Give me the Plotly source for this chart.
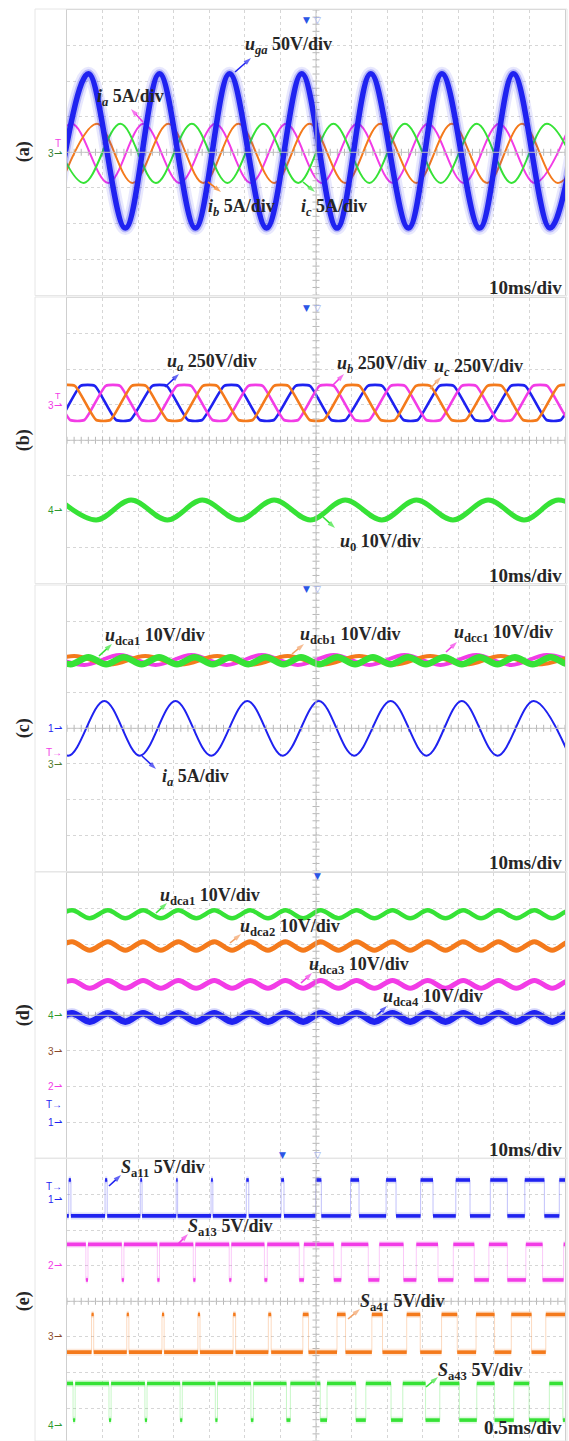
import plotly.graph_objects as go

# ===================== DATA (values in screen divisions) =====================
# (a) grid voltage u_ga and currents ia, ib, ic  (10 ms/div)
a_uga_peaks = [0.60, 2.60, 4.57, 6.60, 8.54, 10.54, 12.55, 14.56]
a_uga_troughs = [-0.40, 1.64, 3.61, 5.61, 7.59, 9.60, 11.60, 13.58]
a_uga_level = [0.04, 2.17]          # centre, amplitude
a_ia_peaks = [0.13, 2.15, 4.17, 6.16, 8.16, 10.15, 12.15, 14.15]
a_ia_troughs = [-0.87, 1.16, 3.17, 5.17, 7.16, 9.16, 11.15, 13.15]
a_ib_peaks = [0.84, 2.85, 4.82, 6.82, 8.81, 10.82, 12.79, 14.80]
a_ib_troughs = [-0.16, 1.84, 3.83, 5.82, 7.82, 9.82, 11.81, 13.80]
a_ic_peaks = [-0.50, 1.50, 3.51, 5.52, 7.49, 9.50, 11.52, 13.49]
a_ic_troughs = [0.47, 2.50, 4.51, 6.50, 8.50, 10.51, 12.50, 14.50]
a_i_level = [-0.03, 0.83]

# (b) output phase voltages (flat-topped) and zero-sequence u0
b_ua_tops = [-1.42, 0.58, 2.60, 4.62, 6.63, 8.66, 10.67, 12.68, 14.69]
b_ub_tops = [-0.71, 1.29, 3.29, 5.30, 7.30, 9.30, 11.30, 13.30]
b_uc_tops = [-1.98, 0.02, 2.02, 4.02, 6.02, 8.02, 10.01, 12.02, 14.02]
b_shape_dt = [-0.20, 0.20, 0.80, 1.20]
b_shape_lvl = [1.0, 1.0, -1.0, -1.0]
b_u_level = [1.05, 0.48]
b_u0_peaks = [-0.20, 1.80, 3.80, 5.82, 7.82, 9.82, 11.84, 13.81]
b_u0_troughs = [0.82, 2.82, 4.84, 6.84, 8.85, 10.85, 12.85, 14.83]
b_u0_level = [-1.96, 0.28]

# (c) cluster DC voltages of the three phases and current ia
c_dca1_peaks = [-0.40, 0.60, 1.60, 2.59, 3.59, 4.60, 5.59, 6.58, 7.60, 8.60, 9.59, 10.60, 11.60, 12.59, 13.60, 14.60]
c_dca1_troughs = [0.10, 1.10, 2.10, 3.09, 4.10, 5.10, 6.09, 7.09, 8.10, 9.10, 10.09, 11.10, 12.10, 13.09, 14.10]
c_dca1_level = [1.90, 0.10]
c_dcb1_peaks = [0.20, 2.20, 4.22, 6.20, 8.21, 10.21, 12.20, 14.20]
c_dcb1_troughs = [-0.80, 1.20, 3.21, 5.21, 7.20, 9.21, 11.21, 13.20]
c_dcb1_level = [1.91, 0.12]
c_dcc1_peaks = [-0.50, 1.48, 3.50, 5.48, 7.50, 9.49, 11.50, 13.49]
c_dcc1_troughs = [0.49, 2.49, 4.49, 6.49, 8.50, 10.50, 12.49, 14.49]
c_dcc1_level = [1.92, 0.14]
c_ia_peaks = [-0.97, 1.05, 3.05, 5.07, 7.08, 9.10, 11.10, 13.12]
c_ia_troughs = [0.03, 2.05, 4.05, 6.07, 8.07, 10.11, 12.10, 14.12]
c_ia_level = [0.0, 0.77]

# (d) DC voltages of the four modules of phase a (100 Hz ripple, in phase)
d_ripple_peaks = [0.14, 1.15, 2.14, 3.13, 4.14, 5.15, 6.14, 7.13, 8.14, 9.15, 10.14, 11.14, 12.13, 13.14, 14.14]
d_ripple_troughs = [-0.36, 0.64, 1.64, 2.64, 3.63, 4.64, 5.65, 6.64, 7.63, 8.64, 9.65, 10.64, 11.64, 12.63, 13.64, 14.64]
d_dca1_level = [2.84, 0.11]
d_dca2_level = [1.95, 0.12]
d_dca3_level = [0.87, 0.11]
d_dca4_level = [-0.06, 0.12]

# (e) gate signals (0.5 ms/div): pulse edges in divisions, levels (high, low)
e_sa11_on = [0.05, 1.07, 2.06, 3.07, 4.05, 5.04, 6.02, 6.99, 7.97, 8.97, 9.94, 10.93, 11.90, 12.87, 13.84]
e_sa11_off = [0.11, 1.13, 2.11, 3.11, 4.10, 5.11, 6.10, 7.15, 8.21, 9.25, 10.29, 11.33, 12.38, 13.42, 14.30]
e_sa11_lvl = [3.41, 2.40]
e_sa13_off = [0.53, 1.54, 2.54, 3.55, 4.56, 5.55, 6.53, 7.50, 8.47, 9.46, 10.43, 11.45, 12.38, 13.37]
e_sa13_on = [0.59, 1.60, 2.60, 3.61, 4.62, 5.63, 6.66, 7.71, 8.78, 9.82, 10.86, 11.86, 12.90, 13.96]
e_sa13_lvl = [1.60, 0.60]
e_sa41_on = [0.69, 1.68, 2.67, 3.68, 4.67, 5.66, 6.63, 7.59, 8.57, 9.55, 10.53, 11.50, 12.49, 13.46]
e_sa41_off = [0.75, 1.74, 2.73, 3.74, 4.74, 5.74, 6.79, 7.83, 8.87, 9.93, 10.97, 12.02, 13.06, 14.30]
e_sa41_lvl = [-0.37, -1.43]
e_sa43_off = [0.17, 1.18, 2.19, 3.18, 4.17, 5.17, 6.17, 7.12, 8.12, 9.11, 10.08, 11.03, 12.02, 12.99, 13.94]
e_sa43_on = [0.23, 1.24, 2.25, 3.24, 4.23, 5.24, 6.28, 7.31, 8.40, 9.44, 10.48, 11.52, 12.56, 13.56, 14.30]
e_sa43_lvl = [-2.31, -3.34]

panel_names = ["(a)", "(b)", "(c)", "(d)", "(e)"]
time_scales = ["10ms/div", "10ms/div", "10ms/div", "10ms/div", "0.5ms/div"]

# ===================== GEOMETRY / STYLE =====================
W, H = 569, 1441
PX_L, PX_R = 67, 565
NX, NY = 14, 8
DIV = (PX_R - PX_L) / NX
TOPS = [10, 298, 586, 873, 1159]

BLUE = "#1f22f0"
ORANGE = "#f47a1c"
GREEN = "#36e236"
MAGENTA = "#f23ce6"
ORANGE_L = "#f2a064"
TXT = "#262626"
SERIF = "Liberation Serif, Times New Roman, serif"

fig = go.Figure()


def ax(i):
    return ("x" if i == 0 else f"x{i+1}"), ("y" if i == 0 else f"y{i+1}")


def extrema(peaks, troughs, level):
    c, a = level
    pts = sorted([(t, c + a) for t in peaks] + [(t, c - a) for t in troughs])
    return [p[0] for p in pts], [p[1] for p in pts]


def trapez(tops, level):
    c, a = level
    xs, ys = [], []
    for t in tops:
        for dt, lv in zip(b_shape_dt, b_shape_lvl):
            xs.append(t + dt)
            ys.append(c + a * lv)
    return xs, ys


def add_line(i, x, y, color, width, shape="spline", opacity=1.0, smoothing=1.0):
    xa, ya = ax(i)
    line = dict(color=color, width=width, shape=shape)
    if shape == "spline":
        line["smoothing"] = smoothing
    fig.add_trace(go.Scatter(x=x, y=y, mode="lines", line=line, opacity=opacity,
                             xaxis=xa, yaxis=ya, hoverinfo="skip", showlegend=False))


def add_wave(i, peaks, troughs, level, color, width, halos=()):
    x, y = extrema(peaks, troughs, level)
    for hw, hop in halos:
        add_line(i, x, y, color, hw, opacity=hop)
    add_line(i, x, y, color, width)


def add_pwm(i, rise, fall, lvl, color, base_low=True):
    """rise/fall: edges of the minority pulses; base_low -> pulses go high."""
    hi, lo = lvl
    base, pulse = (lo, hi) if base_low else (hi, lo)
    xs, ys = [-0.5], [base]
    for s, e in zip(rise, fall):
        xs += [s, e]
        ys += [pulse, base]
    add_line(i, xs, ys, color, 1, shape="hv", opacity=0.28)
    bx, by, px, py = [], [], [], []
    prev = -0.5
    for s, e in zip(rise, fall):
        bx += [prev, s, None]
        by += [base, base, None]
        px += [s, e, None]
        py += [pulse, pulse, None]
        prev = e
    bx += [prev, 14.5]
    by += [base, base]
    for X, Y in ((bx, by), (px, py)):
        add_line(i, X, Y, color, 7, shape="linear", opacity=0.15)
        add_line(i, X, Y, color, 3.6, shape="linear")


# ---------------- axes, grid, centre cross ----------------
layout_axes = {}
shapes = []
annotations = []
for i, top in enumerate(TOPS):
    xa, ya = ax(i)
    bottom = top + NY * DIV
    y_lo = 4 - (min(bottom, H) - top) / DIV
    dom_y = [max(0.0, 1 - bottom / H), 1 - top / H]
    xkey = "xaxis" if i == 0 else f"xaxis{i+1}"
    ykey = "yaxis" if i == 0 else f"yaxis{i+1}"
    common = dict(showgrid=True, gridcolor="#d6d6d6", griddash="dot", gridwidth=1,
                  zeroline=False, showticklabels=False, ticks="", showline=True,
                  linecolor="#cfcfcf", linewidth=1, mirror=True, fixedrange=True, dtick=1, tick0=0)
    layout_axes[xkey] = dict(domain=[PX_L / W, PX_R / W], range=[0, NX], anchor=ya, **common)
    layout_axes[ykey] = dict(domain=dom_y, range=[y_lo, 4], anchor=xa, **common)
    shapes.append(dict(type="line", xref=xa, yref=ya, x0=0, x1=NX, y0=0, y1=0,
                       line=dict(color="#c2c2c2", width=1)))
    shapes.append(dict(type="line", xref=xa, yref=ya, x0=7, x1=7, y0=y_lo, y1=4,
                       line=dict(color="#c2c2c2", width=1)))
    shapes.append(dict(type="rect", xref="paper", yref="paper", x0=35 / W, x1=567 / W,
                       y0=max(0, 1 - (bottom + 1) / H), y1=1 - (top - 1) / H,
                       line=dict(color="#e6e6e6", width=1)))
    fig.add_trace(go.Scatter(x=[k * 0.2 for k in range(71)], y=[0] * 71, mode="markers",
                             marker=dict(symbol="line-ns", size=5, line=dict(color="#b8b8b8", width=1)),
                             xaxis=xa, yaxis=ya, hoverinfo="skip", showlegend=False))
    ny = int(round((4 - y_lo) / 0.2)) + 1
    fig.add_trace(go.Scatter(x=[7] * ny, y=[y_lo + k * 0.2 for k in range(ny)], mode="markers",
                             marker=dict(symbol="line-ew", size=5, line=dict(color="#b8b8b8", width=1)),
                             xaxis=xa, yaxis=ya, hoverinfo="skip", showlegend=False))

# overlay axis in figure pixels, for the pointer arrows
layout_axes["xaxis6"] = dict(domain=[0, 1], range=[0, W], visible=False, fixedrange=True, anchor="y6")
layout_axes["yaxis6"] = dict(domain=[0, 1], range=[H, 0], visible=False, fixedrange=True, anchor="x6")

# ---------------- traces ----------------
# (a)
add_wave(0, a_ia_peaks, a_ia_troughs, a_i_level, MAGENTA, 2)
add_wave(0, a_ib_peaks, a_ib_troughs, a_i_level, ORANGE, 2)
add_wave(0, a_ic_peaks, a_ic_troughs, a_i_level, GREEN, 2)
add_wave(0, a_uga_peaks, a_uga_troughs, a_uga_level, BLUE, 5.5, halos=((14, 0.10), (9, 0.25)))

# (b)
for tops, col in ((b_ua_tops, BLUE), (b_ub_tops, MAGENTA), (b_uc_tops, ORANGE)):
    x, y = trapez(tops, b_u_level)
    add_line(1, x, y, col, 2.6, shape="spline", smoothing=0.5)
add_wave(1, b_u0_peaks, b_u0_troughs, b_u0_level, GREEN, 5)

# (c)
add_wave(2, c_dcc1_peaks, c_dcc1_troughs, c_dcc1_level, MAGENTA, 4)
add_wave(2, c_dcb1_peaks, c_dcb1_troughs, c_dcb1_level, ORANGE, 4)
add_wave(2, c_dca1_peaks, c_dca1_troughs, c_dca1_level, GREEN, 6.5)
add_wave(2, c_ia_peaks, c_ia_troughs, c_ia_level, BLUE, 2)

# (d)
add_wave(3, d_ripple_peaks, d_ripple_troughs, d_dca1_level, GREEN, 4.5)
add_wave(3, d_ripple_peaks, d_ripple_troughs, d_dca2_level, ORANGE, 5)
add_wave(3, d_ripple_peaks, d_ripple_troughs, d_dca3_level, MAGENTA, 5)
add_wave(3, d_ripple_peaks, d_ripple_troughs, d_dca4_level, BLUE, 6.5, halos=((10, 0.2),))

# (e)
add_pwm(4, e_sa11_on, e_sa11_off, e_sa11_lvl, BLUE, base_low=True)
add_pwm(4, e_sa13_off, e_sa13_on, e_sa13_lvl, MAGENTA, base_low=False)
add_pwm(4, e_sa41_on, e_sa41_off, e_sa41_lvl, ORANGE, base_low=True)
add_pwm(4, e_sa43_off, e_sa43_on, e_sa43_lvl, GREEN, base_low=False)


# ---------------- text ----------------
def P(x, y):
    return x / W, 1 - y / H


def label(x, y, html, size=18, anchor="left"):
    px, py = P(x, y)
    annotations.append(dict(x=px, y=py, xref="paper", yref="paper", text=html, showarrow=False,
                            xanchor=anchor, yanchor="middle",
                            font=dict(family=SERIF, size=size, color=TXT)))


def arrow(tail, head, color):
    fig.add_trace(go.Scatter(x=[tail[0], head[0]], y=[tail[1], head[1]], mode="lines+markers",
                             line=dict(color=color, width=1.6),
                             marker=dict(symbol="arrow", size=[0, 8], angleref="previous", color=color,
                                         line=dict(width=0)),
                             xaxis="x6", yaxis="y6", hoverinfo="skip", showlegend=False))


def small(x, y, text, color, size=10, family="Liberation Sans, Arial, sans-serif"):
    px, py = P(x, y)
    annotations.append(dict(x=px, y=py, xref="paper", yref="paper", text=text, showarrow=False,
                            xanchor="right", yanchor="middle", font=dict(family=family, size=size, color=color)))


def U(sub, italic_sub=True):
    s = f"<i>{sub}</i>" if italic_sub else sub
    return f"<i>u</i><sub>{s}</sub>"


# (a)
label(243, 46, f"<b>{U('ga')} 50V/div</b>")
arrow((235, 72), (251, 58), BLUE)
label(95, 98, "<b><i>i</i><sub><i>a</i></sub> 5A/div</b>")
arrow((143, 122), (131, 109), MAGENTA)
label(206, 207, "<b><i>i</i><sub><i>b</i></sub> 5A/div</b>")
arrow((208, 182), (221, 192), ORANGE)
label(299, 207, "<b><i>i</i><sub><i>c</i></sub> 5A/div</b>")
arrow((303, 182), (315, 192), GREEN)
# (b)
label(165, 362, f"<b>{U('a')} 250V/div</b>")
arrow((165, 387), (179, 374), BLUE)
label(335, 364, f"<b>{U('b')} 250V/div</b>")
arrow((332, 386), (344, 374), MAGENTA)
label(432, 367, f"<b>{U('c')} 250V/div</b>")
arrow((430, 389), (441, 377), ORANGE_L)
label(338, 542, f"<b>{U('0', False)} 10V/div</b>")
arrow((323, 517), (335, 528), GREEN)
# (c)
label(103, 636, f"<b>{U('dca1', False)} 10V/div</b>")
arrow((99, 656), (112, 644), GREEN)
label(298, 635, f"<b>{U('dcb1', False)} 10V/div</b>")
arrow((292, 654), (304, 644), ORANGE_L)
label(452, 633, f"<b>{U('dcc1', False)} 10V/div</b>")
arrow((446, 652), (457, 642), MAGENTA)
label(160, 777, "<b><i>i</i><sub><i>a</i></sub> 5A/div</b>")
arrow((142, 756), (156, 769), BLUE)
# (d)
label(158, 896, f"<b>{U('dca1', False)} 10V/div</b>")
arrow((156, 913), (167, 903), GREEN)
label(238, 927, f"<b>{U('dca2', False)} 10V/div</b>")
arrow((230, 943), (241, 934), ORANGE_L)
label(307, 965, f"<b>{U('dca3', False)} 10V/div</b>")
arrow((301, 983), (312, 973), MAGENTA)
label(381, 997, f"<b>{U('dca4', False)} 10V/div</b>")
arrow((376, 1016), (387, 1006), BLUE)
# (e)
label(119, 1168, "<b><i>S</i><sub>a11</sub> 5V/div</b>")
arrow((109, 1186), (121, 1175), BLUE)
label(186, 1227, "<b><i>S</i><sub>a13</sub> 5V/div</b>")
arrow((177, 1245), (188, 1234), MAGENTA)
label(358, 1302, "<b><i>S</i><sub>a41</sub> 5V/div</b>")
arrow((348, 1319), (360, 1309), ORANGE_L)
label(436, 1371, "<b><i>S</i><sub>a43</sub> 5V/div</b>")
arrow((426, 1387), (438, 1377), GREEN)

# time scales and panel names
ts_y = [287, 575, 862, 1149, 1427]
for i, top in enumerate(TOPS):
    label(564, ts_y[i], f"<b>{time_scales[i]}</b>", size=19, anchor="right")
    cx, cy = P(23, top + 4 * DIV)
    annotations.append(dict(x=cx, y=cy, xref="paper", yref="paper", text=f"<b>{panel_names[i]}</b>",
                            showarrow=False, textangle=-90, xanchor="center", yanchor="middle",
                            font=dict(family=SERIF, size=18, color=TXT)))

# trigger markers at the top of each screen
trig = [(306, 317.5), (306, 317.5), (306, 317.5), (None, 317.5), (282, 317)]
for i, top in enumerate(TOPS):
    fx, hx = trig[i]
    if fx is not None:
        px, py = P(fx, top + 3)
        annotations.append(dict(x=px, y=py, xref="paper", yref="paper", text="▼", showarrow=False,
                                font=dict(family="DejaVu Sans", size=9, color="#2a55e6")))
        px, py = P(hx, top + 3)
        annotations.append(dict(x=px, y=py, xref="paper", yref="paper", text="▽", showarrow=False,
                                font=dict(family="DejaVu Sans", size=9, color="#8fa6ee")))
    else:
        px, py = P(hx, top + 3)
        annotations.append(dict(x=px, y=py, xref="paper", yref="paper", text="▼", showarrow=False,
                                font=dict(family="DejaVu Sans", size=9, color="#2a55e6")))

# channel markers on the left edge
small(63, 143, "T", MAGENTA)
small(64, 154, "3⇀", "#2f7d2f")
small(63, 396, "T", MAGENTA, size=9)
small(64, 405, "3⇀", MAGENTA)
small(64, 511, "4⇀", "#2f9a2f")
small(64, 728, "1⇀", BLUE)
small(64, 752, "T→", MAGENTA)
small(64, 764, "3⇀", "#4f7a2a")
small(64, 1015, "4⇀", "#2f9a2f")
small(64, 1051, "3⇀", "#8b4a2b")
small(64, 1086, "2⇀", MAGENTA)
small(64, 1104, "T→", BLUE)
small(64, 1122, "1⇀", BLUE)
small(64, 1186, "T→", BLUE)
small(64, 1199, "1⇀", BLUE)
small(64, 1265, "2⇀", MAGENTA)
small(64, 1336, "3⇀", "#8b4a2b")
small(64, 1425, "4⇀", "#2f9a2f")

fig.update_layout(width=W, height=H, margin=dict(l=0, r=0, t=0, b=0),
                  paper_bgcolor="white", plot_bgcolor="rgba(0,0,0,0)",
                  shapes=shapes, annotations=annotations, showlegend=False, **layout_axes)

fig.write_html("out.html", config={"displayModeBar": False, "staticPlot": True},
               post_script="document.body.style.margin='0';document.body.style.padding='0';")
